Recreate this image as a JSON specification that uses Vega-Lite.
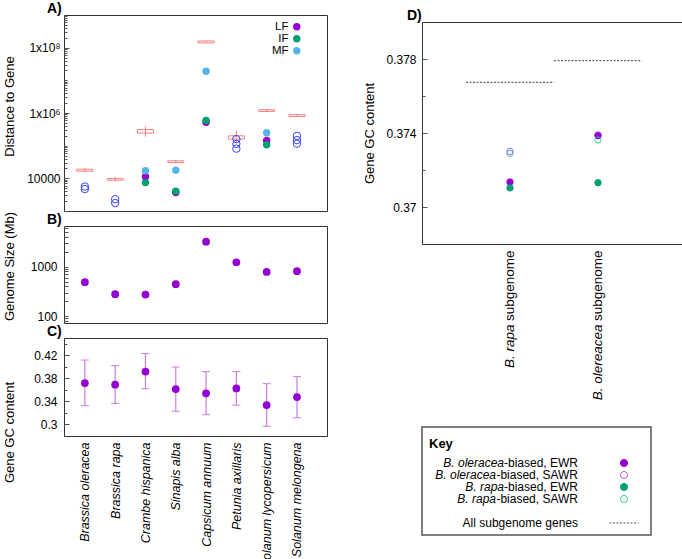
{
  "$schema": "https://vega.github.io/schema/vega-lite/v6.json",
  "background": "white",
  "padding": {"left": 2, "top": 1, "right": 0, "bottom": 0},
  "datasets": {
    "dist": [
      {"species": "Crambe hispanica", "class": "LF", "value": 11200},
      {"species": "Sinapis alba", "class": "LF", "value": 3700},
      {"species": "Capsicum annuum", "class": "LF", "value": 520000},
      {"species": "Solanum lycopersicum", "class": "LF", "value": 145000},
      {"species": "Crambe hispanica", "class": "IF", "value": 7400},
      {"species": "Sinapis alba", "class": "IF", "value": 4040},
      {"species": "Capsicum annuum", "class": "IF", "value": 590000},
      {"species": "Solanum lycopersicum", "class": "IF", "value": 107000},
      {"species": "Crambe hispanica", "class": "MF", "value": 17100},
      {"species": "Sinapis alba", "class": "MF", "value": 17800},
      {"species": "Capsicum annuum", "class": "MF", "value": 19000000},
      {"species": "Solanum lycopersicum", "class": "MF", "value": 250000}
    ],
    "open": [
      {"species": "Brassica oleracea", "value": 5600},
      {"species": "Brassica oleracea", "value": 4700},
      {"species": "Brassica rapa", "value": 2300},
      {"species": "Brassica rapa", "value": 1750},
      {"species": "Petunia axillaris", "value": 159000},
      {"species": "Petunia axillaris", "value": 113000},
      {"species": "Petunia axillaris", "value": 81000},
      {"species": "Solanum melongena", "value": 200000},
      {"species": "Solanum melongena", "value": 148000},
      {"species": "Solanum melongena", "value": 115000}
    ],
    "range": [
      {"species": "Brassica oleracea", "lo": 15500, "q1": 16500, "q3": 19000, "hi": 20500},
      {"species": "Brassica rapa", "lo": 8000, "q1": 8800, "q3": 9800, "hi": 11000},
      {"species": "Crambe hispanica", "lo": 187000, "q1": 243000, "q3": 310000, "hi": 385000},
      {"species": "Sinapis alba", "lo": 29000, "q1": 30500, "q3": 34400, "hi": 36000},
      {"species": "Capsicum annuum", "lo": 140000000, "q1": 140000000, "q3": 160000000, "hi": 160000000},
      {"species": "Petunia axillaris", "lo": 123000, "q1": 159000, "q3": 200000, "hi": 280000},
      {"species": "Solanum lycopersicum", "lo": 1080000, "q1": 1120000, "q3": 1260000, "hi": 1330000},
      {"species": "Solanum melongena", "lo": 760000, "q1": 780000, "q3": 890000, "hi": 940000}
    ],
    "genome": [
      {"species": "Brassica oleracea", "size": 485},
      {"species": "Brassica rapa", "size": 279},
      {"species": "Crambe hispanica", "size": 274},
      {"species": "Sinapis alba", "size": 443},
      {"species": "Capsicum annuum", "size": 3185},
      {"species": "Petunia axillaris", "size": 1226},
      {"species": "Solanum lycopersicum", "size": 782},
      {"species": "Solanum melongena", "size": 808}
    ],
    "gc": [
      {"species": "Brassica oleracea", "mean": 0.3718, "lo": 0.3325, "hi": 0.4118},
      {"species": "Brassica rapa", "mean": 0.369, "lo": 0.3365, "hi": 0.402},
      {"species": "Crambe hispanica", "mean": 0.3917, "lo": 0.362, "hi": 0.423},
      {"species": "Sinapis alba", "mean": 0.3614, "lo": 0.323, "hi": 0.3997},
      {"species": "Capsicum annuum", "mean": 0.354, "lo": 0.317, "hi": 0.3917},
      {"species": "Petunia axillaris", "mean": 0.3626, "lo": 0.3336, "hi": 0.3917},
      {"species": "Solanum lycopersicum", "mean": 0.3336, "lo": 0.297, "hi": 0.3708},
      {"species": "Solanum melongena", "mean": 0.3475, "lo": 0.3117, "hi": 0.383}
    ],
    "sub": [
      {"subgenome": "B. rapa", "cat": "Bol_SAWR", "gc": 0.373},
      {"subgenome": "B. rapa", "cat": "Bra_SAWR", "gc": 0.3729},
      {"subgenome": "B. rapa", "cat": "Bol_EWR", "gc": 0.37135},
      {"subgenome": "B. rapa", "cat": "Bra_EWR", "gc": 0.37103},
      {"subgenome": "B. olereacea", "cat": "Bol_SAWR", "gc": 0.3739},
      {"subgenome": "B. olereacea", "cat": "Bol_EWR", "gc": 0.37385},
      {"subgenome": "B. olereacea", "cat": "Bra_SAWR", "gc": 0.37362},
      {"subgenome": "B. olereacea", "cat": "Bra_EWR", "gc": 0.37131}
    ],
    "suball": [
      {"subgenome": "B. rapa", "gc": 0.37674},
      {"subgenome": "B. olereacea", "gc": 0.37791}
    ],
    "key": [
      {"row": "r1", "species": "B. oleracea", "suffix": "-biased, EWR", "cat": "Bol_EWR"},
      {"row": "r2", "species": "B. oleracea", "suffix": "-biased, SAWR", "cat": "Bol_SAWR"},
      {"row": "r3", "species": "B. rapa", "suffix": "-biased, EWR", "cat": "Bra_EWR"},
      {"row": "r4", "species": "B. rapa", "suffix": "-biased, SAWR", "cat": "Bra_SAWR"},
      {"row": "r5", "species": "", "suffix": "All subgenome genes", "cat": "All"}
    ]
  },
  "spacing": 35,
  "hconcat": [
    {
      "vconcat": [
        {
          "width": 263,
          "height": 196,
          "title": {"text": "A)", "dx": -17},
          "resolve": {"axis": {"y": "independent"}},
          "layer": [
            {
              "data": {"name": "range"},
              "mark": {"type": "rule", "color": "#f07f7f", "strokeWidth": 1},
              "encoding": {
                "x": {"field": "species", "type": "nominal", "scale": {"type": "point", "domain": ["Brassica oleracea", "Brassica rapa", "Crambe hispanica", "Sinapis alba", "Capsicum annuum", "Petunia axillaris", "Solanum lycopersicum", "Solanum melongena"], "padding": 0.84, "align": 0.41}, "axis": null},
                "y": {"field": "lo", "type": "quantitative", "scale": {"type": "log", "domain": [1000, 1000000000], "nice": false},
                  "axis": {"orient": "left", "title": "Distance to Gene", "titleX": -48, "titleY": 91, "tickSize": -5, "labelPadding": 9,
                    "values": [10000, 1000000, 100000000],
                    "labelExpr": "datum.value < 100000 ? '10000' : datum.value < 10000000 ? '1x10⁶' : '1x10⁸'"}},
                "y2": {"field": "hi"}
              }
            },
            {
              "data": {"name": "range"},
              "mark": {"type": "bar", "width": 16, "fill": "transparent", "stroke": "#f07f7f", "strokeWidth": 1},
              "encoding": {
                "x": {"field": "species", "type": "nominal", "axis": null},
                "y": {"field": "q1", "type": "quantitative",
                  "axis": {"orient": "left", "title": null, "labels": false, "tickSize": -3,
                    "values": [1000,2000,3000,4000,5000,6000,7000,8000,9000,20000,30000,40000,50000,60000,70000,80000,90000,100000,200000,300000,400000,500000,600000,700000,800000,900000,2000000,3000000,4000000,5000000,6000000,7000000,8000000,9000000,10000000,20000000,30000000,40000000,50000000,60000000,70000000,80000000,90000000,200000000,300000000,400000000,500000000,600000000,700000000,800000000,900000000]}},
                "y2": {"field": "q3"}
              }
            },
            {
              "data": {"name": "open"},
              "mark": {"type": "point", "shape": "circle", "filled": false, "color": "#3344ff", "size": 55, "strokeWidth": 1, "opacity": 1},
              "encoding": {
                "x": {"field": "species", "type": "nominal", "axis": null},
                "y": {"field": "value", "type": "quantitative", "axis": null}
              }
            },
            {
              "data": {"name": "dist"},
              "mark": {"type": "point", "shape": "circle", "filled": true, "size": 55, "opacity": 1},
              "encoding": {
                "x": {"field": "species", "type": "nominal", "axis": null},
                "y": {"field": "value", "type": "quantitative", "axis": null},
                "color": {"field": "class", "type": "nominal", "scale": {"domain": ["LF", "IF", "MF"], "range": ["#9400d3", "#009e73", "#56b4e9"]},
                  "legend": {"orient": "none", "legendX": 227, "legendY": 6, "title": null, "padding": 0, "labelAlign": "right", "labelOffset": -14, "labelFontSize": 11.5, "labelColor": "#000", "symbolSize": 55, "symbolType": "circle", "symbolStrokeWidth": 0, "symbolOpacity": 1, "rowPadding": -1,
                    "labelExpr": "datum.label == 'MF' ? 'MF' : datum.label == 'LF' ? '\u00a0LF' : '\u00a0\u00a0IF'"}}
              }
            }
          ]
        },
        {
          "width": 263,
          "height": 97,
          "title": {"text": "B)", "dx": -17, "offset": -16},
          "data": {"name": "genome"},
          "mark": {"type": "point", "shape": "circle", "filled": true, "color": "#9400d3", "size": 60, "opacity": 1},
          "encoding": {
            "x": {"field": "species", "type": "nominal", "scale": {"type": "point", "domain": ["Brassica oleracea", "Brassica rapa", "Crambe hispanica", "Sinapis alba", "Capsicum annuum", "Petunia axillaris", "Solanum lycopersicum", "Solanum melongena"], "padding": 0.84, "align": 0.41}, "axis": null},
            "y": {"field": "size", "type": "quantitative", "scale": {"type": "log", "domain": [73, 6600], "nice": false},
              "axis": {"title": "Genome Size (Mb)", "titleX": -48, "titleY": 40, "tickSize": -4, "labelPadding": 11,
                "values": [80, 90, 100, 200, 300, 400, 500, 600, 700, 800, 900, 1000, 2000, 3000, 4000, 5000, 6000],
                "labelExpr": "datum.value == 100 ? '100' : datum.value == 1000 ? '1000' : ''"}}
          }
        },
        {
          "width": 263,
          "height": 98,
          "title": {"text": "C)", "dx": -17},
          "data": {"name": "gc"},
          "resolve": {"axis": {"y": "independent"}},
          "layer": [
            {
              "mark": {"type": "rule", "color": "#c77de0", "strokeWidth": 1.2},
              "encoding": {
                "x": {"field": "species", "type": "nominal", "scale": {"type": "point", "domain": ["Brassica oleracea", "Brassica rapa", "Crambe hispanica", "Sinapis alba", "Capsicum annuum", "Petunia axillaris", "Solanum lycopersicum", "Solanum melongena"], "padding": 0.84, "align": 0.41},
                  "axis": {"orient": "bottom", "title": null, "labelAngle": -90, "labelFontStyle": "italic", "labelFontSize": 12.5, "labelPadding": 6, "ticks": false, "domain": false, "labelLimit": 300}},
                "y": {"field": "lo", "type": "quantitative", "scale": {"domain": [0.28, 0.45], "nice": false, "zero": false},
                  "axis": {"orient": "left", "title": "Gene GC content", "titleX": -48, "titleY": 94, "tickSize": -5, "labelPadding": 12,
                    "values": [0.3, 0.34, 0.38, 0.42], "format": "~g"}},
                "y2": {"field": "hi"}
              }
            },
            {
              "mark": {"type": "tick", "orient": "horizontal", "color": "#c77de0", "size": 8, "thickness": 1, "opacity": 1},
              "encoding": {
                "x": {"field": "species", "type": "nominal"},
                "y": {"field": "lo", "type": "quantitative",
                  "axis": {"orient": "left", "title": null, "labels": false, "tickSize": -3, "values": [0.32, 0.36, 0.4, 0.44]}}
              }
            },
            {
              "mark": {"type": "tick", "orient": "horizontal", "color": "#c77de0", "size": 8, "thickness": 1, "opacity": 1},
              "encoding": {
                "x": {"field": "species", "type": "nominal"},
                "y": {"field": "hi", "type": "quantitative", "axis": null}
              }
            },
            {
              "mark": {"type": "point", "shape": "circle", "filled": true, "color": "#9400d3", "size": 60, "opacity": 1},
              "encoding": {
                "x": {"field": "species", "type": "nominal"},
                "y": {"field": "mean", "type": "quantitative", "axis": null}
              }
            }
          ]
        }
      ],
      "spacing": 15,
      "bounds": "flush"
    },
    {
      "vconcat": [
        {
          "width": 1,
          "height": 1,
          "view": {"stroke": null},
          "data": {"values": []},
          "mark": {"type": "point", "opacity": 0},
          "encoding": {}
        },
        {
          "vconcat": [
            {
              "width": 264,
              "height": 222,
              "title": {"text": "D)", "dx": -15},
              "resolve": {"axis": {"x": "independent", "y": "independent"}},
              "layer": [
                {
                  "data": {"name": "suball"},
                  "mark": {"type": "point", "shape": "M-1,0L1,0", "size": 7744, "filled": false, "color": "#444", "strokeWidth": 1, "strokeDash": [2, 1.5], "opacity": 1},
                  "encoding": {
                    "x": {"field": "subgenome", "type": "nominal", "scale": {"type": "band", "domain": ["B. rapa", "B. olereacea"], "paddingInner": 0, "paddingOuter": 0.5},
                      "axis": {"orient": "bottom", "title": null, "labelAngle": -90, "labelFontSize": 13.5, "labelFontStyle": "italic", "labelPadding": 80, "ticks": false, "domain": false}},
                    "y": {"field": "gc", "type": "quantitative", "scale": {"domain": [0.368, 0.38], "nice": false, "zero": false},
                      "axis": {"orient": "left", "title": "Gene GC content", "titlePadding": 9, "tickSize": -5, "labelPadding": 11, "values": [0.37, 0.374, 0.378], "format": "~g"}}
                  }
                },
                {
                  "data": {"name": "sub"},
                  "mark": {"type": "point", "shape": "circle", "filled": true, "size": 40, "strokeWidth": 1, "opacity": 1},
                  "encoding": {
                    "x": {"field": "subgenome", "type": "nominal",
                      "axis": {"orient": "bottom", "title": null, "labelExpr": "'subgenome'", "labelAngle": -90, "labelFontSize": 13.5, "labelPadding": 6, "ticks": false, "domain": false}},
                    "y": {"field": "gc", "type": "quantitative",
                      "axis": {"orient": "left", "title": null, "labels": false, "tickSize": -3, "values": [0.372, 0.376]}},
                    "fill": {"field": "cat", "type": "nominal", "scale": {"domain": ["Bol_EWR", "Bol_SAWR", "Bra_EWR", "Bra_SAWR"], "range": ["#9400d3", "transparent", "#009e73", "transparent"]}, "legend": null},
                    "stroke": {"field": "cat", "type": "nominal", "scale": {"domain": ["Bol_EWR", "Bol_SAWR", "Bra_EWR", "Bra_SAWR"], "range": ["#9400d3", "#bb55ee", "#009e73", "#3cc8a0"]}, "legend": null}
                  }
                }
              ]
            },
            {
              "width": 229,
              "height": 108,
              "view": {"stroke": "#555", "strokeWidth": 1.5},
              "title": {"text": "Key", "anchor": "start", "offset": -24, "dx": 7, "fontSize": 13},
              "data": {"name": "key"},
              "layer": [
                {
                  "mark": {"type": "text", "align": "right", "baseline": "middle", "fontSize": 12, "color": "#000"},
                  "encoding": {
                    "x": {"datum": "label", "type": "nominal", "scale": {"type": "point", "domain": ["c1", "c2", "c3", "label", "symbol"], "padding": 0.489, "align": 0.4}, "axis": null},
                    "y": {"field": "row", "type": "nominal", "scale": {"type": "point", "domain": ["k", "s", "r1", "r2", "r3", "r4", "gap", "r5", "e"], "padding": 0.5, "align": 1}, "axis": null},
                    "text": {"field": "suffix"}
                  }
                },
                {
                  "transform": [{"filter": "datum.suffix == '-biased, EWR'"}],
                  "mark": {"type": "text", "align": "right", "baseline": "middle", "fontSize": 12, "fontStyle": "italic", "color": "#000", "dx": -74},
                  "encoding": {
                    "x": {"datum": "label", "type": "nominal"},
                    "y": {"field": "row", "type": "nominal"},
                    "text": {"field": "species"}
                  }
                },
                {
                  "transform": [{"filter": "datum.suffix == '-biased, SAWR'"}],
                  "mark": {"type": "text", "align": "right", "baseline": "middle", "fontSize": 12, "fontStyle": "italic", "color": "#000", "dx": -82},
                  "encoding": {
                    "x": {"datum": "label", "type": "nominal"},
                    "y": {"field": "row", "type": "nominal"},
                    "text": {"field": "species"}
                  }
                },
                {
                  "transform": [{"filter": "datum.cat != 'All'"}],
                  "mark": {"type": "point", "shape": "circle", "filled": true, "size": 50, "strokeWidth": 1, "opacity": 1},
                  "encoding": {
                    "x": {"datum": "symbol", "type": "nominal"},
                    "y": {"field": "row", "type": "nominal"},
                    "fill": {"field": "cat", "type": "nominal", "scale": {"domain": ["Bol_EWR", "Bol_SAWR", "Bra_EWR", "Bra_SAWR"], "range": ["#9400d3", "transparent", "#009e73", "transparent"]}, "legend": null},
                    "stroke": {"field": "cat", "type": "nominal", "scale": {"domain": ["Bol_EWR", "Bol_SAWR", "Bra_EWR", "Bra_SAWR"], "range": ["#9400d3", "#bb55ee", "#009e73", "#3cc8a0"]}, "legend": null}
                  }
                },
                {
                  "transform": [{"filter": "datum.cat == 'All'"}],
                  "mark": {"type": "point", "shape": "M-1,0L1,0", "size": 841, "filled": false, "color": "#555", "strokeWidth": 1, "strokeDash": [2, 1.5], "opacity": 1},
                  "encoding": {
                    "x": {"datum": "symbol", "type": "nominal"},
                    "y": {"field": "row", "type": "nominal"}
                  }
                }
              ]
            }
          ],
          "spacing": 183,
          "bounds": "flush"
        }
      ],
      "spacing": 6,
      "bounds": "flush"
    }
  ],
  "config": {
    "font": "Liberation Sans",
    "view": {"stroke": "#333", "strokeWidth": 1},
    "axis": {"labelFont": "Liberation Sans", "labelFontSize": 12, "labelColor": "#000", "titleFont": "Liberation Sans", "titleFontSize": 13, "titleFontWeight": "normal", "titleColor": "#000", "tickColor": "#555", "grid": false, "domain": false, "labelOverlap": false},
    "title": {"font": "Liberation Sans", "fontSize": 14, "fontWeight": "bold", "anchor": "start", "frame": "group", "offset": -1, "color": "#000"},
    "legend": {"labelFont": "Liberation Sans"}
  }
}
